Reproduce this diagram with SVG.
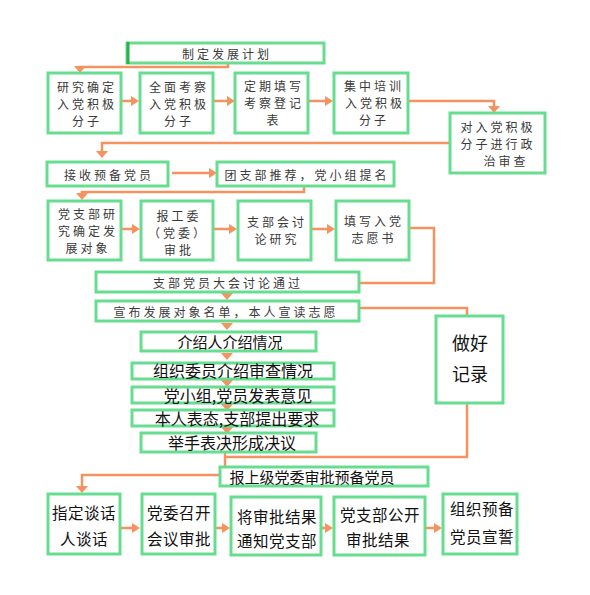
<svg xmlns="http://www.w3.org/2000/svg" width="590" height="595" viewBox="0 0 590 595">
<style>
.b{fill:#fff;stroke:#66dd8f;stroke-width:3}
.c{fill:none;stroke:#f5925f;stroke-width:2.5}
.h{fill:#f5925f}
.s{font-family:"Noto Sans CJK SC","Noto Sans",sans-serif;font-size:12px;letter-spacing:3px;fill:#3a3a3a;text-anchor:middle;dominant-baseline:central}
.m{font-family:"Noto Sans CJK SC","Noto Sans",sans-serif;font-size:15px;fill:#111;text-anchor:middle;dominant-baseline:central}
.l{font-family:"Noto Sans CJK SC","Noto Sans",sans-serif;font-size:15.5px;letter-spacing:0.5px;fill:#111;text-anchor:middle;dominant-baseline:central}
</style>
<defs>
<path id="ar" d="M0,-5 L8,0 L0,5 z" class="h"/>
<path id="ad" d="M-6,0 L6,0 L0,7 z" class="h"/>
</defs>
<rect width="590" height="595" fill="#fff"/>
<g id="connectors">
<polyline class="c" points="228,63 228,67 80,67 80,68"/>
<use href="#ad" x="80" y="66"/>
<line class="c" x1="121" y1="101" x2="132" y2="101"/><use href="#ar" x="131" y="101"/>
<line class="c" x1="213" y1="101" x2="228" y2="101"/><use href="#ar" x="227" y="101"/>
<line class="c" x1="308" y1="101" x2="326" y2="101"/><use href="#ar" x="325" y="101"/>
<polyline class="c" points="408,101 494,101 494,107"/><use href="#ad" x="494" y="106"/>
<polyline class="c" points="450,143 102,143 102,152"/><use href="#ad" x="102" y="151"/>
<line class="c" x1="172" y1="173" x2="210" y2="173"/><use href="#ar" x="209" y="173"/>
<polyline class="c" points="304,186 304,192 82,192 82,194"/><use href="#ad" x="82" y="193"/>
<line class="c" x1="121" y1="229" x2="133" y2="229"/><use href="#ar" x="132" y="229"/>
<line class="c" x1="213" y1="229" x2="230" y2="229"/><use href="#ar" x="229" y="229"/>
<line class="c" x1="311" y1="229" x2="328" y2="229"/><use href="#ar" x="327" y="229"/>
<polyline class="c" points="409,228 434,228 434,283 360,283"/>
<use href="#ad" x="227" y="293"/>
<polyline class="c" points="359,308 467,308 467,316"/>
<use href="#ad" x="227" y="323"/>
<use href="#ad" x="227" y="353"/>
<use href="#ad" x="227" y="380"/>
<use href="#ad" x="227" y="404"/>
<use href="#ad" x="227" y="427"/>
<polyline class="c" points="467,403 467,457 225,457"/>
<line class="c" x1="225" y1="452" x2="225" y2="467"/>
<polyline class="c" points="220,475 82,475 82,487"/><use href="#ad" x="82" y="486"/>
<line class="c" x1="120" y1="528" x2="133" y2="528"/><use href="#ar" x="132" y="528"/>
<line class="c" x1="215" y1="528" x2="223" y2="528"/><use href="#ar" x="222" y="528"/>
<line class="c" x1="321" y1="528" x2="326" y2="528"/><use href="#ar" x="325" y="528"/>
<line class="c" x1="425" y1="528" x2="435" y2="528"/><use href="#ar" x="434" y="528"/>
</g>
<g id="n0"><rect class="b" x="127" y="43" width="197" height="20"/><rect x="126.5" y="42" width="3" height="22" fill="#2bb04f"/><text class="s" x="227" y="53">制定发展计划</text></g>
<g id="n1"><rect class="b" x="48" y="73" width="73" height="60"/><text class="s" x="87" y="86">研究确定</text><text class="s" x="87" y="103">入党积极</text><text class="s" x="87" y="120">分子</text></g>
<g id="n2"><rect class="b" x="140" y="73" width="73" height="60"/><text class="s" x="179" y="86">全面考察</text><text class="s" x="179" y="103">入党积极</text><text class="s" x="179" y="120">分子</text></g>
<g id="n3"><rect class="b" x="235" y="73" width="73" height="60"/><text class="s" x="274" y="85">定期填写</text><text class="s" x="274" y="102">考察登记</text><text class="s" x="274" y="119">表</text></g>
<g id="n4"><rect class="b" x="334" y="73" width="74" height="60"/><text class="s" x="374" y="85">集中培训</text><text class="s" x="375" y="102">入党积极</text><text class="s" x="374" y="119">分子</text></g>
<g id="n5"><rect class="b" x="450" y="113" width="95" height="60"/><text class="s" x="498" y="126">对入党积极</text><text class="s" x="498" y="143">分子进行政</text><text class="s" x="506" y="160">治审查</text></g>
<g id="n6"><rect class="b" x="47" y="162" width="121" height="24"/><text class="s" x="109" y="174">接收预备党员</text></g>
<g id="n7"><rect class="b" x="217" y="162" width="177" height="24"/><text class="s" x="307" y="174">团支部推荐，党小组提名</text></g>
<g id="n8"><rect class="b" x="48" y="201" width="73" height="59"/><text class="s" x="88" y="213">党支部研</text><text class="s" x="88" y="230">究确定发</text><text class="s" x="88" y="247">展对象</text></g>
<g id="n9"><rect class="b" x="141" y="201" width="72" height="59"/><text class="s" x="179" y="215">报工委</text><text class="s" x="178" y="232">（党委）</text><text class="s" x="179" y="249">审批</text></g>
<g id="n10"><rect class="b" x="238" y="201" width="73" height="59"/><text class="s" x="277" y="221">支部会讨</text><text class="s" x="277" y="238">论研究</text></g>
<g id="n11"><rect class="b" x="336" y="201" width="73" height="59"/><text class="s" x="374" y="220">填写入党</text><text class="s" x="374" y="237">志愿书</text></g>
<g id="n12"><rect class="b" x="96" y="272" width="263" height="20"/><text class="s" x="228" y="282">支部党员大会讨论通过</text></g>
<g id="n13"><rect class="b" x="96" y="301" width="263" height="20"/><text class="s" x="226" y="311">宣布发展对象名单，本人宣读志愿</text></g>
<g id="n14"><rect class="b" x="436" y="316" width="67" height="87"/><text class="m" x="470" y="342" style="font-size:18px">做好</text><text class="m" x="470" y="373" style="font-size:18px">记录</text></g>
<g id="n15"><rect class="b" x="141" y="332" width="175" height="19"/><text class="m" x="230" y="341">介绍人介绍情况</text></g>
<g id="n16"><rect class="b" x="132" y="363" width="202" height="16"/><text class="m" x="233" y="370" style="font-size:16px">组织委员介绍审查情况</text></g>
<g id="n17"><rect class="b" x="132" y="387" width="202" height="16"/><text class="m" x="238" y="395" style="font-size:16px">党小组,党员发表意见</text></g>
<g id="n18"><rect class="b" x="132" y="410" width="202" height="16"/><text class="m" x="237" y="418" style="font-size:16px">本人表态,支部提出要求</text></g>
<g id="n19"><rect class="b" x="141" y="433" width="175" height="19"/><text class="m" x="232" y="442" style="font-size:16px">举手表决形成决议</text></g>
<g id="n20"><rect class="b" x="220" y="467" width="208" height="19"/><text class="m" x="312" y="476">报上级党委审批预备党员</text></g>
<g id="n21"><rect class="b" x="48" y="494" width="72" height="60"/><text class="l" x="84" y="512">指定谈话</text><text class="l" x="84" y="538">人谈话</text></g>
<g id="n22"><rect class="b" x="142" y="494" width="73" height="60"/><text class="l" x="179" y="512">党委召开</text><text class="l" x="179" y="538">会议审批</text></g>
<g id="n23"><rect class="b" x="231" y="497" width="90" height="58"/><text class="l" x="277" y="516">将审批结果</text><text class="l" x="277" y="540">通知党支部</text></g>
<g id="n24"><rect class="b" x="334" y="497" width="91" height="58"/><text class="l" x="380" y="514">党支部公开</text><text class="l" x="378" y="539">审批结果</text></g>
<g id="n25"><rect class="b" x="443" y="494" width="74" height="60"/><text class="l" x="482" y="508">组织预备</text><text class="l" x="482" y="536">党员宣誓</text></g>
</svg>
